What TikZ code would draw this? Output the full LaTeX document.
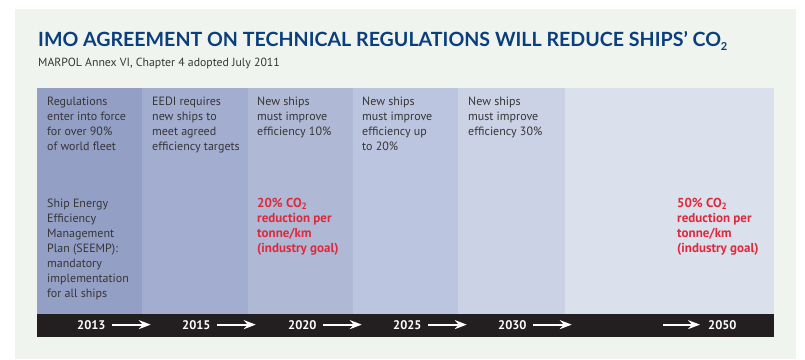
\documentclass[tikz,border=0pt]{standalone}
\usepackage{fontspec}
\setmainfont{PT Sans}
\newfontfamily\titlefont{Lato}
\usetikzlibrary{arrows.meta,positioning,chains,calc}
\definecolor{bggreen}{HTML}{EFF5EE}
\definecolor{titleblue}{HTML}{0B3E7D}
\definecolor{bodygray}{HTML}{363636}
\definecolor{goalred}{HTML}{DD2A3C}
\definecolor{barblack}{HTML}{231F20}
\definecolor{c2013}{HTML}{949FC6}
\definecolor{c2015}{HTML}{A2ADD0}
\definecolor{c2020}{HTML}{AFB9D6}
\definecolor{c2025}{HTML}{BCC5DF}
\definecolor{c2030}{HTML}{CCD2E5}
\definecolor{c2050}{HTML}{DBE0ED}
\tikzstyle{period}=[draw=none,minimum height=226pt,inner sep=0pt,outer sep=0pt]
\tikzstyle{note}=[anchor=north west,align=left,inner sep=0pt,text=bodygray,font=\fontsize{12}{15}\selectfont]
\tikzstyle{goal}=[note,text=goalred,font=\bfseries\fontsize{13}{15}\selectfont]
\tikzstyle{year}=[anchor=base west,inner sep=0pt,text=white,font=\bfseries\fontsize{12.5}{13}\selectfont]
\tikzstyle{yeararrow}=[draw=white,line width=2pt,-{Stealth[length=12pt,width=9pt,inset=4pt]}]

\begin{document}
\begin{tikzpicture}[x=1pt,y=-1pt]
		\useasboundingbox (0,0) rectangle (805,359);
		\fill[bggreen] (15,9) rectangle (796,359);
		
		\node[anchor=base west,inner sep=0pt,text=titleblue,font=\titlefont\bfseries\fontsize{19.6}{22}\selectfont] (title) at (38,46)
			{IMO AGREEMENT ON TECHNICAL REGULATIONS WILL REDUCE SHIPS’ CO\raisebox{-4pt}{\fontsize{11}{11}\selectfont 2}};
		\node[anchor=base west,inner sep=0pt,text=bodygray,font=\fontsize{11.8}{13}\selectfont] (subtitle) at (38,66)
			{MARPOL Annex VI, Chapter 4 adopted July 2011};
		
		\begin{scope}[start chain=1 going right, node distance=0pt]
		\node [on chain=1,period,fill=c2013,minimum width=105pt,anchor=north west] (p2013) at (37,88) {};
		\node [on chain=1,period,fill=c2015,minimum width=106pt] (p2015) {};
		\node [on chain=1,period,fill=c2020,minimum width=105pt] (p2020) {};
		\node [on chain=1,period,fill=c2025,minimum width=105pt] (p2025) {};
		\node [on chain=1,period,fill=c2030,minimum width=107pt] (p2030) {};
		\node [on chain=1,period,fill=c2050,minimum width=209pt] (p2050) {};
		\end{scope}
		\fill[barblack] (p2013.south west) rectangle ($(p2050.south east)+(0pt,-23pt)$);
		
		\node[note] (t2013) at ($(p2013.north west)+(10pt,-9pt)$) {Regulations\\enter into force\\for over 90\%\\of world fleet};
		\node[note] (s2013) at ($(p2013.north west)+(10pt,-111pt)$) {Ship Energy\\Efficiency\\Management\\Plan (SEEMP):\\mandatory\\implementation\\for all ships};
		\node[note] (t2015) at ($(p2015.north west)+(10pt,-9pt)$) {EEDI requires\\new ships to\\meet agreed\\efficiency targets};
		\node[note] (t2020) at ($(p2020.north west)+(9pt,-9pt)$) {New ships\\must improve\\efficiency 10\%};
		\node[goal] (g2020) at ($(p2020.north west)+(9pt,-110pt)$) {20\% CO\textsubscript{2}\\reduction per\\tonne/km\\(industry goal)};
		\node[note] (t2025) at ($(p2025.north west)+(9pt,-9pt)$) {New ships\\must improve\\efficiency up\\to 20\%};
		\node[note] (t2030) at ($(p2030.north west)+(10pt,-9pt)$) {New ships\\must improve\\efficiency 30\%};
		\node[goal] (g2050) at ($(p2050.north west)+(112pt,-110pt)$) {50\% CO\textsubscript{2}\\reduction per\\tonne/km\\(industry goal)};
		
		% years on the black bar
		\node[year] (y2013) at ($(p2013.south west)+(40pt,-15pt)$) {2013};
		\node[year] (y2015) at ($(p2015.south west)+(40pt,-15pt)$) {2015};
		\node[year] (y2020) at ($(p2020.south west)+(40pt,-15pt)$) {2020};
		\node[year] (y2025) at ($(p2025.south west)+(40pt,-15pt)$) {2025};
		\node[year] (y2030) at ($(p2030.south west)+(40pt,-15pt)$) {2030};
		\node[year] (y2050) at ($(p2050.south west)+(143pt,-15pt)$) {2050};
		
		\foreach \yr in {2013,2015,2020,2025,2030}{
			\coordinate (e\yr) at ($(y\yr.east)+(45pt,0pt)$);
			\draw[yeararrow,shorten <=6pt] (y\yr.east) -- (e\yr);
		}
		\coordinate (e2050) at ($(y2050.west)+(-45pt,0pt)$);
		\draw[yeararrow,shorten >=8pt] (e2050) -- (y2050.west);
		\end{tikzpicture}
\end{document}
